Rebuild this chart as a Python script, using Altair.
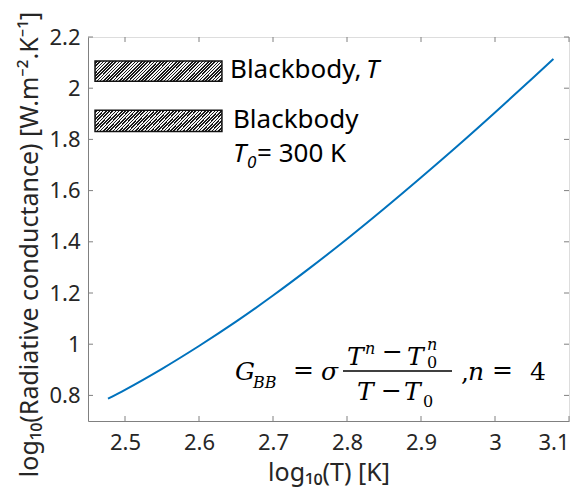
import altair as alt
import pandas as pd

# ---- data ----
log_T = [2.477, 2.50, 2.55, 2.60, 2.65, 2.70, 2.75, 2.80, 2.85, 2.90, 2.95, 3.00, 3.05, 3.079]
log_G = [0.787, 0.822, 0.904, 0.993, 1.088, 1.190, 1.298, 1.411, 1.529, 1.651, 1.776, 1.905, 2.037, 2.114]

x_ticks = [2.5, 2.6, 2.7, 2.8, 2.9, 3.0, 3.1]
y_ticks = [0.8, 1.0, 1.2, 1.4, 1.6, 1.8, 2.0, 2.2]

# legend-like hatched boxes (data units)
box_x = [2.4595, 2.4595]
box_x2 = [2.631, 2.631]
box_y = [2.027, 1.831]
box_y2 = [2.106, 1.914]

W, H = 481, 384
xs = alt.Scale(domain=[2.45, 3.1], nice=False, zero=False)
ys = alt.Scale(domain=[0.7, 2.2], nice=False, zero=False)

AX = "#808080"
TXT = "#262626"
SANS = "Noto Sans"
SERIF = "DejaVu Serif"

df = pd.DataFrame({"x": log_T, "y": log_G})

line = alt.Chart(df).mark_line(color="#0072BD", strokeWidth=2, interpolate="monotone").encode(
    x=alt.X("x:Q", scale=xs, axis=alt.Axis(
        orient="bottom", values=x_ticks, format=".1~f", ticks=False, tickSize=0,
        labelPadding=11, labelFont=SANS, labelFontSize=22, labelColor=TXT,
        title="log₁₀(T) [K]", titleFont=SANS, titleFontSize=25, titleFontWeight="normal",
        titleColor=TXT, titleBaseline="alphabetic", titleY=59, domainColor=AX, grid=False)),
    y=alt.Y("y:Q", scale=ys, axis=alt.Axis(
        orient="left", values=y_ticks, format=".1~f", ticks=False, tickSize=0,
        labelPadding=8, labelFont=SANS, labelFontSize=22, labelColor=TXT,
        title="log₁₀(Radiative conductance) [W.m⁻².K⁻¹]", titleFont=SANS, titleFontSize=25,
        titleFontWeight="normal", titleColor=TXT, titleAngle=270, titleAlign="center",
        titleBaseline="alphabetic", titleX=-51, titleY=207, domainColor=AX, grid=False)),
)

# inward ticks on all four sides
xt = pd.DataFrame({"v": x_ticks})
yt = pd.DataFrame({"v": y_ticks})
tk_bottom = alt.Chart(xt).mark_rule(color=AX, strokeWidth=1).encode(
    x=alt.X("v:Q", scale=xs, axis=None), y=alt.value(H), y2=alt.value(H - 5))
tk_top = alt.Chart(xt).mark_rule(color=AX, strokeWidth=1).encode(
    x=alt.X("v:Q", scale=xs, axis=None), y=alt.value(0), y2=alt.value(5))
tk_left = alt.Chart(yt).mark_rule(color=AX, strokeWidth=1).encode(
    y=alt.Y("v:Q", scale=ys, axis=None), x=alt.value(0), x2=alt.value(5))
tk_right = alt.Chart(yt).mark_rule(color=AX, strokeWidth=1).encode(
    y=alt.Y("v:Q", scale=ys, axis=None), x=alt.value(W), x2=alt.value(W - 5))

# hatch fill via striped gradient
n_per = 46
stops = []
for k in range(n_per):
    a = k / n_per
    b = (k + 0.5) / n_per
    c = (k + 1) / n_per
    stops += [alt.GradientStop(color="#f4f4f4", offset=a), alt.GradientStop(color="#f4f4f4", offset=b),
              alt.GradientStop(color="#1a1a1a", offset=b), alt.GradientStop(color="#1a1a1a", offset=c)]
hatch = alt.LinearGradient(gradient="linear", stops=stops, x1=0, y1=0, x2=1.1295, y2=0.1779)

bdf = pd.DataFrame({"x": box_x, "x2": box_x2, "y": box_y, "y2": box_y2})
boxes = alt.Chart(bdf).mark_rect(fill=hatch, stroke="#111111", strokeWidth=1.5).encode(
    x=alt.X("x:Q", scale=xs, axis=None), x2="x2:Q",
    y=alt.Y("y:Q", scale=ys, axis=None), y2="y2:Q",
)


def txt(xv, yv, tv, font, size, style="normal", color="#000000"):
    d = pd.DataFrame({"x": xv, "y": yv, "t": tv})
    return alt.Chart(d).mark_text(font=font, fontSize=size, fontStyle=style, align="left",
                                  baseline="alphabetic", color=color).encode(
        x=alt.X("x:Q", scale=xs, axis=None), y=alt.Y("y:Q", scale=ys, axis=None), text="t:N")


# legend texts
leg_norm = txt([2.6419, 2.6459, 2.6784], [2.0398, 1.8445, 1.7117], ["Blackbody,", "Blackbody", "= 300 K"], SANS, 26)
leg_ital = txt([2.8257, 2.6459], [2.0398, 1.7117], ["T", "T"], SANS, 26, "italic")
leg_sub = txt([2.6649], [1.6883], ["0"], SANS, 17, "italic")

# equation
eq_big_it = txt([2.6486, 2.7649, 2.8000, 2.8811, 2.8135, 2.8770, 2.9635],
                [0.8602, 0.8602, 0.9188, 0.9188, 0.7820, 0.7820, 0.8602],
                ["G", "σ", "T", "T", "T", "T", "n"], SERIF, 25, "italic")
eq_big_n = txt([2.7270, 2.8473, 2.8460, 2.9540, 2.9959, 3.0473],
               [0.8680, 0.9383, 0.7860, 0.8563, 0.8680, 0.8602],
               ["=", "−", "−", ",", "=", "4"], SERIF, 25)
eq_small_it = txt([2.6730, 2.8243, 2.9081], [0.8289, 0.9600, 0.9775], ["BB", "n", "n"], SERIF, 16, "italic")
eq_small_n = txt([2.9081, 2.9027], [0.9070, 0.7547], ["0", "0"], SERIF, 16)

frac = alt.Chart(pd.DataFrame({"x": [2.7946], "x2": [2.9419], "y": [0.8953]})).mark_rule(
    color="#000000", strokeWidth=1.5).encode(
    x=alt.X("x:Q", scale=xs, axis=None), x2="x2:Q", y=alt.Y("y:Q", scale=ys, axis=None))

chart = alt.layer(
    line, tk_bottom, tk_top, tk_left, tk_right, boxes, leg_norm, leg_ital, leg_sub,
    eq_big_it, eq_big_n, eq_small_it, eq_small_n, frac
).resolve_axis(x="independent", y="independent").properties(
    width=W, height=H,
    autosize=alt.AutoSizeParams(type="none"),
    padding={"left": 80, "top": 29, "right": 9, "bottom": 67},
).configure_view(stroke=AX, strokeWidth=1).configure(background="#ffffff")

chart.save("out.html", embed_options={"renderer": "svg", "actions": False})
